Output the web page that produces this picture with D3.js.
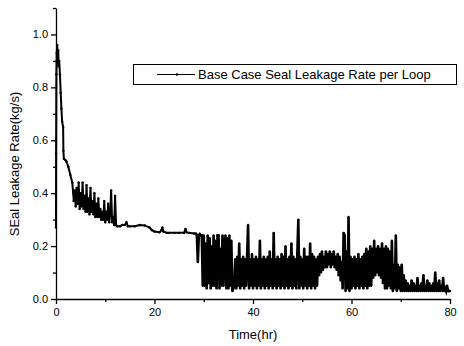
<!DOCTYPE html>
<html>
<head>
<meta charset="utf-8">
<script src="https://cdn.jsdelivr.net/npm/d3@7"></script>
<style>
  html, body { margin: 0; padding: 0; background: #fff; }
  svg { display: block; font-family: Arial, "Liberation Sans", sans-serif; }
</style>
</head>
<body>
<svg id="chart" width="464" height="346"></svg>
<script>
// ---- data ----
const xTicks = [0, 20, 40, 60, 80];
const xMinorTicks = [10, 30, 50, 70];
const yTicks = [0.0, 0.2, 0.4, 0.6, 0.8, 1.0];
const yMinorTicks = [0.1, 0.3, 0.5, 0.7, 0.9, 1.1];
const seriesName = "Base Case Seal Leakage Rate per Loop";
const xTitle = "Time(hr)";
const yTitle = "SEal Leakage Rate(kg/s)";

// initial transient: [time(hr), rate]
const headPoints = [
  [0.0, 0.27], [0.02, 0.55], [0.08, 0.85], [0.15, 0.93], [0.25, 0.96], [0.35, 0.91],
  [0.45, 0.94], [0.55, 0.88], [0.65, 0.90], [0.8, 0.85], [0.95, 0.78], [1.1, 0.72],
  [1.25, 0.67], [1.45, 0.65], [1.5, 0.56], [1.6, 0.53], [1.9, 0.525], [2.1, 0.52],
  [2.5, 0.50], [2.9, 0.47], [3.3, 0.44], [3.5, 0.40]
];
// first noisy band, sampled every 0.2 hr from 3.6 hr
const noise1Start = 3.6;
const noise1Values = [
  0.37, 0.41, 0.35, 0.42, 0.36, 0.44, 0.34, 0.40, 0.35, 0.44,
  0.34, 0.39, 0.33, 0.43, 0.33, 0.38, 0.32, 0.42, 0.33, 0.37,
  0.32, 0.40, 0.31, 0.36, 0.31, 0.38, 0.31, 0.34, 0.30, 0.33,
  0.30, 0.37, 0.29, 0.33, 0.30, 0.36, 0.29, 0.32, 0.41, 0.29,
  0.31, 0.28, 0.39, 0.28
];
// plateau: [time(hr), rate]
const plateauPoints = [
  [12.4, 0.275], [13.0, 0.275], [13.5, 0.28], [14.0, 0.28], [14.3, 0.29], [14.6, 0.275],
  [15.0, 0.275], [16.0, 0.275], [17.0, 0.28], [18.0, 0.278], [19.0, 0.27], [19.5, 0.26],
  [20.0, 0.255], [21.0, 0.252], [21.4, 0.26], [21.6, 0.27], [21.8, 0.255], [22.5, 0.25],
  [23.0, 0.25], [24.0, 0.25], [25.0, 0.25], [26.0, 0.25], [26.3, 0.265], [26.5, 0.252],
  [27.0, 0.25], [28.0, 0.248], [28.4, 0.248]
];
// second noisy band, sampled every 0.2 hr from 28.6 hr
const noise2Start = 28.6;
const noise2Values = [
  0.24, 0.14, 0.24, 0.245, 0.24, 0.24, 0.05,
  0.24, 0.05, 0.21, 0.04, 0.24,
  0.06, 0.23, 0.04, 0.20, 0.05,
  0.24, 0.05, 0.22, 0.04, 0.24,
  0.24, 0.04, 0.19, 0.05, 0.24,
  0.05, 0.20, 0.24, 0.04, 0.23,
  0.04, 0.24, 0.05, 0.22, 0.03,
  0.04, 0.05, 0.15, 0.04, 0.16,
  0.05, 0.21, 0.04, 0.15, 0.05,
  0.16, 0.04, 0.15, 0.05, 0.16,
  0.28, 0.04, 0.15, 0.05, 0.17,
  0.04, 0.15, 0.05, 0.16, 0.04,
  0.15, 0.05, 0.22, 0.04, 0.15,
  0.05, 0.16, 0.04, 0.15, 0.05,
  0.16, 0.04, 0.18, 0.05, 0.15,
  0.04, 0.25, 0.05, 0.15, 0.04,
  0.16, 0.05, 0.15, 0.04, 0.17,
  0.05, 0.16, 0.04, 0.20, 0.05,
  0.15, 0.04, 0.16, 0.05, 0.21,
  0.04, 0.16, 0.05, 0.15, 0.04,
  0.17, 0.30, 0.04, 0.16, 0.05,
  0.15, 0.04, 0.19, 0.05, 0.16,
  0.04, 0.16, 0.05, 0.21, 0.04,
  0.17, 0.05, 0.16, 0.04, 0.15,
  0.05, 0.16, 0.09, 0.17, 0.10,
  0.18, 0.11, 0.16, 0.12, 0.18,
  0.12, 0.17, 0.13, 0.18, 0.12,
  0.17, 0.13, 0.18, 0.12, 0.16,
  0.11, 0.17, 0.09, 0.16, 0.07,
  0.14, 0.04, 0.25, 0.24, 0.03,
  0.18, 0.04, 0.31, 0.03, 0.16,
  0.04, 0.15, 0.05, 0.16, 0.04,
  0.15, 0.05, 0.17, 0.04, 0.15,
  0.05, 0.16, 0.04, 0.17, 0.05,
  0.19, 0.04, 0.18, 0.05, 0.20,
  0.05, 0.19, 0.08, 0.22, 0.09,
  0.19, 0.10, 0.20, 0.09, 0.19,
  0.08, 0.21, 0.06, 0.19, 0.04,
  0.20, 0.04, 0.19, 0.05, 0.18,
  0.04, 0.22, 0.03, 0.13, 0.04,
  0.24, 0.03, 0.13, 0.04, 0.12,
  0.03, 0.13, 0.03, 0.09, 0.03,
  0.07, 0.03, 0.06, 0.03, 0.05,
  0.03, 0.07, 0.03, 0.06, 0.03,
  0.05, 0.03, 0.08, 0.03, 0.05,
  0.03, 0.06, 0.03, 0.09, 0.03,
  0.05, 0.03, 0.07, 0.03, 0.06,
  0.03, 0.05, 0.03, 0.06, 0.03,
  0.10, 0.03, 0.06, 0.03, 0.07,
  0.03, 0.05, 0.03, 0.08, 0.03,
  0.04, 0.03, 0.05, 0.03, 0.03,
  0.03
];
const sampleStep = 0.2;

// ---- assemble series ----
const firstPart = [];
headPoints.forEach(p => firstPart.push(p));
noise1Values.forEach((v, i) => firstPart.push([noise1Start + i * sampleStep, v]));
plateauPoints.forEach(p => firstPart.push(p));
const secondPart = [firstPart[firstPart.length - 1]];
noise2Values.forEach((v, i) => secondPart.push([noise2Start + i * sampleStep, v]));
const data = firstPart.concat(secondPart.slice(1));

// ---- layout ----
const svg = d3.select("#chart");
const x = d3.scaleLinear().domain([0, 80]).range([56, 450]);
const y = d3.scaleLinear().domain([0, 1.1]).range([299, 8]);

// axes
const gx = svg.append("g").attr("transform", `translate(0,${y(0)})`)
  .call(d3.axisBottom(x).tickValues(xTicks).tickFormat(d3.format("d")).tickSize(5).tickSizeOuter(0));
const gxm = svg.append("g").attr("transform", `translate(0,${y(0)})`)
  .call(d3.axisBottom(x).tickValues(xMinorTicks).tickFormat("").tickSize(3).tickSizeOuter(0));
gxm.select(".domain").remove();
const gy = svg.append("g").attr("transform", `translate(${x(0)},0)`)
  .call(d3.axisLeft(y).tickValues(yTicks).tickFormat(d3.format(".1f")).tickSize(5).tickSizeOuter(0));
const gym = svg.append("g").attr("transform", `translate(${x(0)},0)`)
  .call(d3.axisLeft(y).tickValues(yMinorTicks).tickFormat("").tickSize(3).tickSizeOuter(0));
gym.select(".domain").remove();

[gx, gy, gxm, gym].forEach(g => {
  g.selectAll("path, line").attr("stroke", "#000").attr("stroke-width", 1.3);
  g.selectAll("text").attr("fill", "#000").attr("font-size", 11)
    .attr("font-family", "Arial, 'Liberation Sans', sans-serif");
});
gx.selectAll("text").attr("dy", "0.71em").attr("y", 9);
gy.selectAll("text").attr("x", -8);

// series line
const line = d3.line().x(d => x(d[0])).y(d => y(d[1]));
svg.append("path")
  .datum(firstPart)
  .attr("fill", "none")
  .attr("stroke", "#000")
  .attr("stroke-width", 2)
  .attr("stroke-linejoin", "round")
  .attr("d", line);
svg.append("path")
  .datum(secondPart)
  .attr("fill", "none")
  .attr("stroke", "#000")
  .attr("stroke-width", 2.6)
  .attr("stroke-linejoin", "miter")
  .attr("d", line);

svg.append("g").selectAll("circle")
  .data(data)
  .join("circle")
  .attr("cx", d => x(d[0]))
  .attr("cy", d => y(d[1]))
  .attr("r", 1.2)
  .attr("fill", "#000");

// titles
svg.append("text")
  .attr("x", 253).attr("y", 339)
  .attr("text-anchor", "middle")
  .attr("font-size", 13)
  .text(xTitle);
svg.append("text")
  .attr("transform", `translate(19,164) rotate(-90)`)
  .attr("text-anchor", "middle")
  .attr("font-size", 13)
  .text(yTitle);

// legend
const lg = svg.append("g");
lg.append("rect")
  .attr("x", 133.5).attr("y", 64.5).attr("width", 323).attr("height", 20)
  .attr("fill", "#fff").attr("stroke", "#000").attr("stroke-width", 1);
lg.append("line")
  .attr("x1", 157).attr("x2", 195).attr("y1", 74.5).attr("y2", 74.5)
  .attr("stroke", "#000").attr("stroke-width", 1);
lg.append("circle").attr("cx", 177).attr("cy", 74.5).attr("r", 1.3).attr("fill", "#000");
lg.append("text")
  .attr("x", 198).attr("y", 79)
  .attr("font-size", 13)
  .text(seriesName);
</script>
</body>
</html>
